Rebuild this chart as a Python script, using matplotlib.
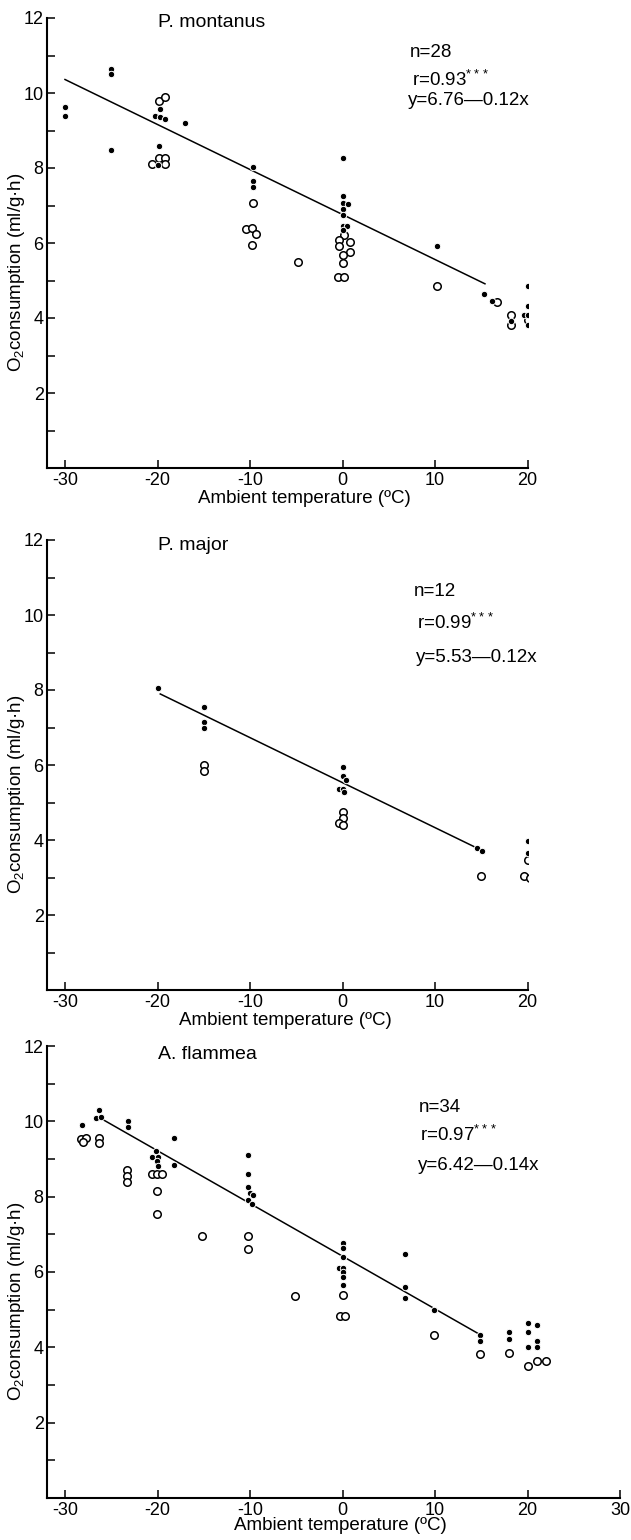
import matplotlib
matplotlib.use("Agg")
import matplotlib.pyplot as plt
from matplotlib.ticker import FixedLocator

plt.rcParams['font.family'] = ['Liberation Sans', 'DejaVu Sans']
plt.rcParams['axes.unicode_minus'] = False
plt.rcParams['mathtext.fontset'] = 'custom'
plt.rcParams['mathtext.rm'] = 'Liberation Sans'
plt.rcParams['mathtext.it'] = 'Liberation Sans'

# ---------------- P. montanus ----------------
pm_fill_x = [-30, -30, -25, -25, -25, -19.7, -20.3, -19.7, -19.2, -19.8, -19.9, -17,
             -9.7, -9.7, -9.7, 0, 0, 0, 0.6, 0, 0, 0, 0.5, 0, 10.2, 15.3, 16.2, 18.2,
             20, 20, 19.6, 20.1, 20]
pm_fill_y = [9.62, 9.40, 10.65, 10.5, 8.47, 9.58, 9.4, 9.37, 9.32, 8.6, 8.07, 9.2,
             8.03, 7.65, 7.49, 8.28, 7.25, 7.08, 7.05, 6.92, 6.75, 6.45, 6.45, 6.35, 5.92,
             4.63, 4.45, 3.93, 4.85, 4.32, 4.08, 4.08, 3.81]
pm_open_x = [-19.8, -19.2, -20.6, -19.8, -19.2, -19.2, -9.7, -10.4, -9.8, -9.3, -9.8,
             -4.8, 0.2, 0.8, -0.4, -0.4, 0.8, 0.1, 0.1, -0.5, 0.2, 10.2, 16.7, 18.2,
             18.2, 20.7, 20.1]
pm_open_y = [9.79, 9.9, 8.1, 8.28, 8.28, 8.1, 7.07, 6.37, 6.4, 6.24, 5.95,
             5.49, 6.22, 6.04, 6.08, 5.92, 5.75, 5.68, 5.46, 5.1, 5.1, 4.86, 4.42, 4.08,
             3.81, 4.05, 3.95]
pm_coef = (6.76, -0.12)
pm_range = (-30, 15.4)
pm_stats = ["n=28", "r=0.93$^{***}$", "y=6.76\u20140.12x"]

# ---------------- P. major ----------------
pj_fill_x = [-20, -15, -15, -15, 0, 0, 0.4, -0.4, 0, 0.2, 14.5, 15.1, 20, 20]
pj_fill_y = [8.05, 7.55, 7.15, 6.98, 5.95, 5.72, 5.6, 5.37, 5.37, 5.28, 3.8, 3.7,
             3.97, 3.65]
pj_open_x = [-15, -15, 0, 0, -0.4, 0, 15, 20, 19.6, 20.3]
pj_open_y = [6.0, 5.85, 4.75, 4.6, 4.45, 4.4, 3.05, 3.46, 3.05, 3.0]
pj_coef = (5.53, -0.12)
pj_range = (-19.7, 14.6)
pj_stats = ["n=12", "r=0.99$^{***}$", "y=5.53\u20140.12x"]

# ---------------- A. flammea ----------------
af_fill_x = [-28.2, -26.3, -26.7, -26.1, -23.2, -23.2, -20.2, -20.6, -20, -20.1, -20,
             -18.2, -18.2, -10.2, -10.2, -10.2, -10, -9.7, -10.2, -9.8, 0, 0, 0.1,
             -0.4, 0, 0.1, 0.1, 0.1, 6.8, 6.8, 6.8, 9.9, 14.9, 14.9, 18, 18, 20, 20,
             20.1, 21, 21, 21]
af_fill_y = [9.9, 10.3, 10.08, 10.12, 10.0, 9.85, 9.2, 9.05, 9.05, 8.95, 8.82,
             9.55, 8.85, 9.1, 8.6, 8.25, 8.1, 8.05, 7.92, 7.8, 6.78, 6.63, 6.4,
             6.1, 6.1, 6.0, 5.86, 5.66, 6.48, 5.6, 5.32, 5.0, 4.33, 4.18, 4.42, 4.22,
             4.65, 4.4, 4.02, 4.58, 4.18, 4.02]
af_open_x = [-28.3, -27.7, -28.1, -26.3, -26.3, -23.3, -23.3, -23.3, -20.6, -20.1,
             -19.5, -20.1, -20.1, -15.2, -10.2, -10.2, -5.1, 0.1, -0.3, 0.3, 9.9,
             14.9, 18, 20.1, 21, 22]
af_open_y = [9.52, 9.55, 9.45, 9.55, 9.42, 8.7, 8.55, 8.38, 8.6, 8.6, 8.6, 8.15,
             7.55, 6.95, 6.95, 6.6, 5.36, 5.39, 4.83, 4.83, 4.32, 3.82, 3.85, 3.5,
             3.63, 3.63]
af_coef = (6.42, -0.14)
af_range = (-25.9, 14.9)
af_stats = ["n=34", "r=0.97$^{***}$", "y=6.42\u20140.14x"]

x_ticks_short = [-30, -20, -10, 0, 10, 20]
x_ticks_long = [-30, -20, -10, 0, 10, 20, 30]
y_major = [2, 4, 6, 8, 10, 12]
y_minor = [1, 3, 5, 7, 9, 11]
x_label = "Ambient temperature (\u00baC)"
y_label = "O$_2$consumption (ml/g\u00b7h)"

W, H = 631, 1540
fig = plt.figure(figsize=(W / 100, H / 100), dpi=100)

px_per_deg = 9.25
x0_px = 65 - 2 * px_per_deg  # spine at -32

layout = [
    dict(top=18, bot=468, xmax=20, xt=x_ticks_short, xlab_c=304, xlab_off=22,
         title_xy=(-19.9, 11.89), txt=[(7.3, 11.09), (7.5, 10.35), (7.1, 9.81)]),
    dict(top=540, bot=990, xmax=20, xt=x_ticks_short, xlab_c=285, xlab_off=22,
         title_xy=(-19.9, 11.85), txt=[(7.7, 10.62), (8.1, 9.78), (7.9, 8.86)]),
    dict(top=1046, bot=1498, xmax=30, xt=x_ticks_long, xlab_c=340, xlab_off=19,
         title_xy=(-20.0, 11.78), txt=[(8.2, 10.38), (8.4, 9.65), (8.2, 8.83)]),
]

series = [
    ("P. montanus", pm_fill_x, pm_fill_y, pm_open_x, pm_open_y, pm_coef, pm_range, pm_stats),
    ("P. major", pj_fill_x, pj_fill_y, pj_open_x, pj_open_y, pj_coef, pj_range, pj_stats),
    ("A. flammea", af_fill_x, af_fill_y, af_open_x, af_open_y, af_coef, af_range, af_stats),
]

for lay, (title, fx, fy, ox, oy, coef, rng, stats) in zip(layout, series):
    top, bot, xmax = lay["top"], lay["bot"], lay["xmax"]
    width_px = (xmax + 32) * px_per_deg
    height_px = bot - top
    ax = fig.add_axes([x0_px / W, 1 - bot / H, width_px / W, height_px / H])
    ax.set_xlim(-32, xmax)
    ax.set_ylim(0, 12)
    for s in ("top", "right"):
        ax.spines[s].set_visible(False)
    for s in ("left", "bottom"):
        ax.spines[s].set_linewidth(1.5)
    ax.xaxis.set_major_locator(FixedLocator(lay["xt"]))
    ax.yaxis.set_major_locator(FixedLocator(y_major))
    ax.yaxis.set_minor_locator(FixedLocator(y_minor))
    ax.tick_params(axis="both", which="both", direction="in", width=1.1,
                   labelsize=13, colors="black", length=6)
    ax.tick_params(axis="x", pad=3)
    ax.tick_params(axis="y", pad=2)
    ax.set_xticklabels([str(v) for v in lay["xt"]])
    ax.set_yticklabels([str(v) for v in y_major])

    ax.set_xlabel(x_label, fontsize=13.5)
    ax.xaxis.set_label_coords((lay["xlab_c"] - x0_px) / width_px,
                              -lay["xlab_off"] / height_px)
    ax.set_ylabel(y_label, fontsize=13.5)
    ax.yaxis.set_label_coords((27 - x0_px) / width_px, 0.435)

    a, b = coef
    lx = list(rng)
    ly = [a + b * v for v in lx]
    ax.plot(lx, ly, color="black", lw=1.1, zorder=2)
    ax.plot(ox, oy, linestyle="none", marker="o", markersize=5.4,
            markerfacecolor="white", markeredgecolor="black", markeredgewidth=1.1,
            zorder=3)
    ax.plot(fx, fy, linestyle="none", marker="o", markersize=4.6,
            markerfacecolor="black", markeredgecolor="white", markeredgewidth=0.7,
            zorder=4)

    ax.text(*lay["title_xy"], title, fontsize=14, ha="left", va="center")
    for (tx, ty), s in zip(lay["txt"], stats):
        ax.text(tx, ty, s, fontsize=13.5, ha="left", va="center")

fig.savefig("out.png", dpi=100)
